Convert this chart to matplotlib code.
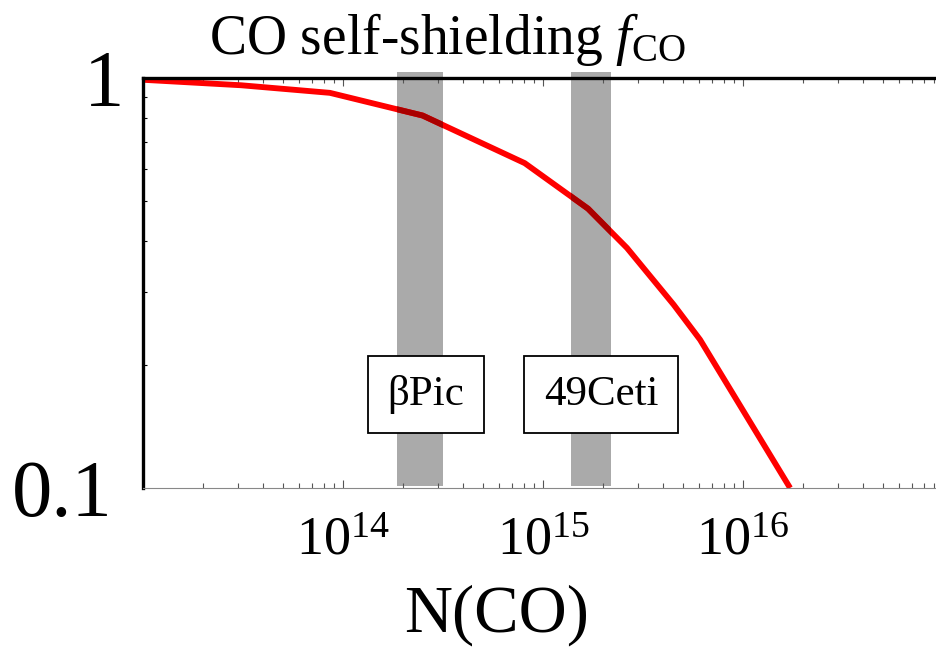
import numpy as np
import matplotlib
matplotlib.use("Agg")
import matplotlib.pyplot as plt
from matplotlib.patches import Rectangle
from matplotlib.ticker import LogLocator, NullFormatter

# ==========================================
# Data
# ==========================================
N_CO = [1.0e13, 3.1e13, 8.6e13, 2.5e14, 8.1e14, 1.68e15, 2.63e15, 4.5e15, 6.1e15, 1.72e16]
f_CO = [0.99, 0.96, 0.92, 0.81, 0.62, 0.48, 0.385, 0.28, 0.23, 0.10]

band_names = ["βPic", "49Ceti"]
band_lo = [1.86e14, 1.38e15]
band_hi = [3.16e14, 2.19e15]
label_x = [2.6e14, 1.95e15]
label_y = [0.169, 0.169]

x_ticks = [1e14, 1e15, 1e16]
x_ticklabels = [r"$10^{14}$", r"$10^{15}$", r"$10^{16}$"]
y_ticks = [0.1, 1]
y_ticklabels = ["0.1", "1"]

# ==========================================
# Style
# ==========================================
plt.rcParams["font.family"] = ["Liberation Serif", "DejaVu Serif"]
plt.rcParams["mathtext.fontset"] = "custom"
plt.rcParams["mathtext.rm"] = "Liberation Serif"
plt.rcParams["mathtext.it"] = "Liberation Serif:italic"

fig = plt.figure(figsize=(9.36, 6.47), dpi=100)
W, H = 936, 647
ax = fig.add_axes([143 / W, 1 - 488 / H, (W - 143) / W, (488 - 78) / H])

ax.set_xscale("log")
ax.set_yscale("log")
ax.set_xlim(1e13, 10 ** (13 + (936 - 143) / 200))
ax.set_ylim(0.1, 1.0)

# gray bands (stick out a bit above the frame)
for lo, hi in zip(band_lo, band_hi):
    ax.axvspan(lo, hi, ymin=0.005, ymax=1.0146, color="#aaaaaa", lw=0,
               zorder=1, clip_on=False)

# red curve, darker where it crosses a band
ax.plot(N_CO, f_CO, color="red", lw=4.2, zorder=2, solid_capstyle="butt",
        solid_joinstyle="round")
for lo, hi in zip(band_lo, band_hi):
    line, = ax.plot(N_CO, f_CO, color="#aa0000", lw=4.2, zorder=3,
                    solid_capstyle="butt", solid_joinstyle="round")
    rect = Rectangle((lo, 0.05), hi - lo, 2.0, transform=ax.transData)
    line.set_clip_path(rect)

# labels in boxes
for name, lx, ly in zip(band_names, label_x, label_y):
    ax.text(lx, ly, name, fontsize=31, ha="center", va="center", zorder=5,
            bbox=dict(boxstyle="square,pad=0.45", fc="white", ec="black", lw=1.3))

# ==========================================
# Axes / ticks
# ==========================================
ax.spines["right"].set_visible(False)
ax.spines["top"].set_linewidth(2.4)
ax.spines["left"].set_linewidth(2.4)
ax.spines["top"].set_color("black")
ax.spines["left"].set_color("black")
ax.spines["bottom"].set_linewidth(0.8)
ax.spines["bottom"].set_color("#888888")
for s in ax.spines.values():
    s.set_zorder(4)

ax.set_xticks(x_ticks)
ax.set_xticklabels(x_ticklabels, fontsize=39)
ax.xaxis.set_minor_locator(LogLocator(base=10, subs=np.arange(2, 10)))
ax.xaxis.set_minor_formatter(NullFormatter())
ax.set_yticks(y_ticks)
ax.set_yticklabels(y_ticklabels, fontsize=58)
ax.yaxis.set_minor_locator(LogLocator(base=10, subs=np.arange(2, 10)))
ax.yaxis.set_minor_formatter(NullFormatter())

ax.tick_params(axis="x", which="both", direction="in", top=True, bottom=True,
               color="#555555", width=0.8)
ax.tick_params(axis="x", which="major", length=6, pad=20)
ax.tick_params(axis="x", which="minor", length=3.5)
ax.tick_params(axis="y", which="both", direction="in", left=True, right=False,
               color="black", width=0.8)
ax.tick_params(axis="y", which="major", length=0, pad=22)
ax.tick_params(axis="y", which="minor", length=3)
# the "1" sits a little closer to the frame than "0.1"
ax.get_yticklabels()[1].set_x(0.015)

# titles
fig.text(447 / W, 1 - 40 / H, r"CO self-shielding $f_{\mathrm{CO}}$", fontsize=40,
         ha="center", va="center")
fig.text(497 / W, 1 - 615 / H, "N(CO)", fontsize=48, ha="center", va="center")

fig.savefig("out.png", dpi=100)
